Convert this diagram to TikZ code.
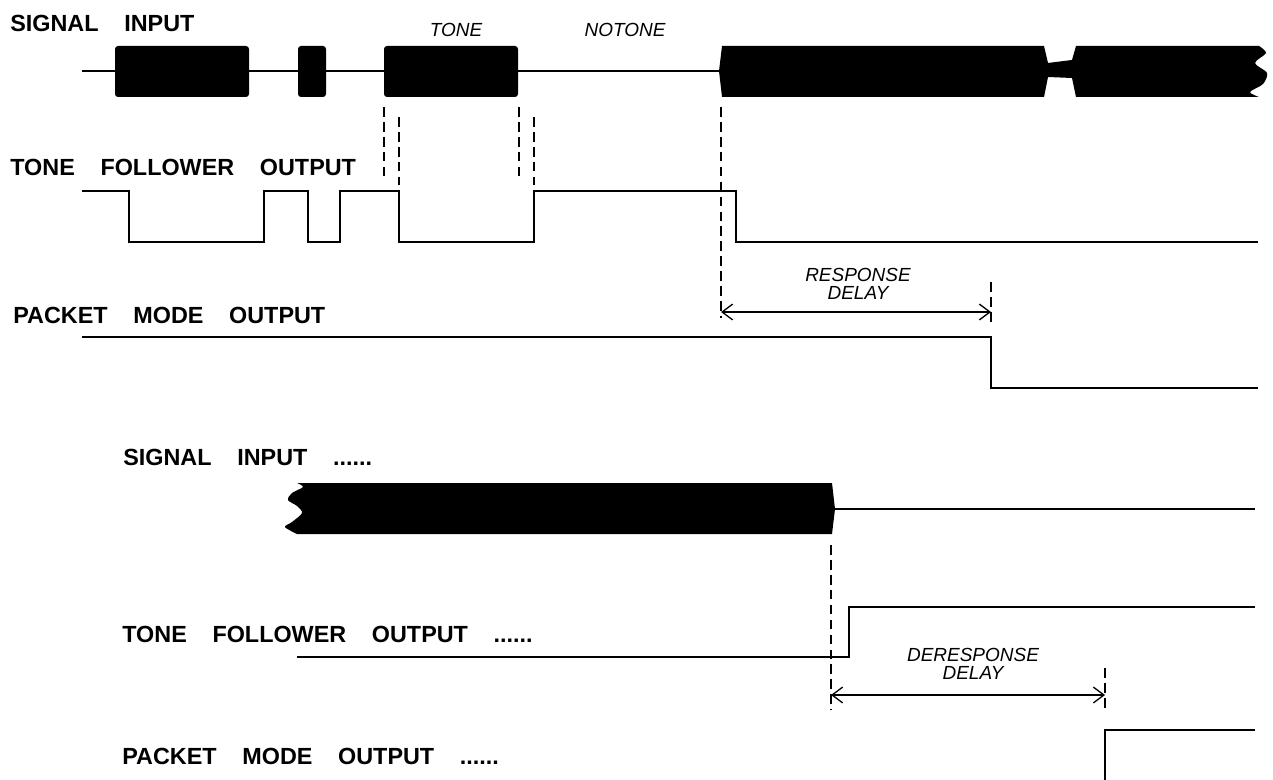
\documentclass[tikz,border=0pt]{standalone}
\usepackage{fontspec}
\setmainfont{Liberation Sans}
\usepackage{tikz}
\usetikzlibrary{arrows.meta, positioning}
\newcommand{\wsp}{\hspace{1.1em}}

\begin{document}
\begin{tikzpicture}[x=0.02cm, y=-0.02cm,
    label/.style={anchor=base west, inner sep=0pt, font=\bfseries\fontsize{13.3}{15}\selectfont},
    note/.style={inner sep=0pt, align=center, font=\itshape\fontsize{10.8}{10.3}\selectfont},
    wave/.style={line width=0.6pt},
    trace/.style={line width=0.85pt},
    burst/.style={fill=black, rounded corners=0.06cm},
    marker/.style={line width=1.3pt, dash pattern=on 5.5pt off 3pt},
    span/.style={{Straight Barb[length=6pt, width=9pt]}-{Straight Barb[length=6pt, width=9pt]}, line width=0.75pt}]

    \useasboundingbox (0,0) rectangle (1273,780);

    % Labels
    \node[label] (sig) at (10,32) {SIGNAL\wsp INPUT};
    \node[label] (tf) at (10,176) {TONE\wsp FOLLOWER\wsp OUTPUT};
    \node[label] (pm) at (13,323) {PACKET\wsp MODE\wsp OUTPUT};
    \node[label] (sig2) at (123,465) {SIGNAL\wsp INPUT\wsp ......};
    \node[label] (tf2) at (122,642) {TONE\wsp FOLLOWER\wsp OUTPUT\wsp ......};
    \node[label] (pm2) at (122,764) {PACKET\wsp MODE\wsp OUTPUT\wsp ......};
    \node[note, anchor=base] (tone) at (456,37) {TONE};
    \node[note, anchor=base] (notone) at (625,37) {NOTONE};
    \node[note] (resp) at (858,284) {RESPONSE\\DELAY};
    \node[note] (deresp) at (973,664) {DERESPONSE\\DELAY};

    % Signal input
    \draw[wave] (82,71) -- (719,71);
    \fill[burst] (115,46) rectangle (249,97);
    \fill[burst] (298,46) rectangle (326,97);
    \fill[burst] (384,46) rectangle (518,97);
    \fill (719,71) -- (722,46) -- (1044,46) -- (1048,63) -- (1072,60) -- (1076,46) -- (1259,46)
        -- plot[smooth] coordinates {(1259,46) (1266,53) (1255,63) (1267,73) (1263,84) (1250,92) (1259,97)}
        -- (1076,97) -- (1072,78) -- (1048,77) -- (1044,97) -- (722,97) -- cycle;

    % Tone follower and packet mode
    \draw[trace] (82,191) -- (129,191) -- (129,242) -- (264,242) -- (264,191) -- (308,191) -- (308,242)
        -- (340,242) -- (340,191) -- (399,191) -- (399,242) -- (534,242) -- (534,191) -- (736,191)
        -- (736,242) -- (1258,242);
    \draw[trace] (82,337) -- (991,337) -- (991,388) -- (1258,388);

    % Markers
    \draw[marker] (384,107) -- (384,180);
    \draw[marker] (399,117) -- (399,185);
    \draw[marker] (519,107) -- (519,180);
    \draw[marker] (534,117) -- (534,185);
    \draw[marker] (721,107) -- (721,318);
    \draw[marker] (991,282) -- (991,325);

    % Second sequence
    \fill (297,483) -- (832,483) -- (835,509) -- (832,534) -- (297,534)
        -- plot[smooth] coordinates {(297,534) (285,527) (292,522) (302,513) (297,506) (288,500) (292,493) (303,487) (297,483)}
        -- cycle;
    \draw[wave] (835,509) -- (1255,509);
    \draw[trace] (297,657) -- (849,657) -- (849,607) -- (1255,607);
    \draw[trace] (1105,780) -- (1105,730) -- (1255,730);
    \draw[marker] (831,545) -- (831,710);
    \draw[marker] (1105,668) -- (1105,710);

    % Arrows
    \coordinate (rd1) at (721,312);
    \coordinate (rd2) at (991,312);
    \coordinate (dd1) at (831,695);
    \coordinate (dd2) at (1105,695);
    \draw[span] (rd1) -- (rd2);
    \draw[span] (dd1) -- (dd2);

\end{tikzpicture}
\end{document}
